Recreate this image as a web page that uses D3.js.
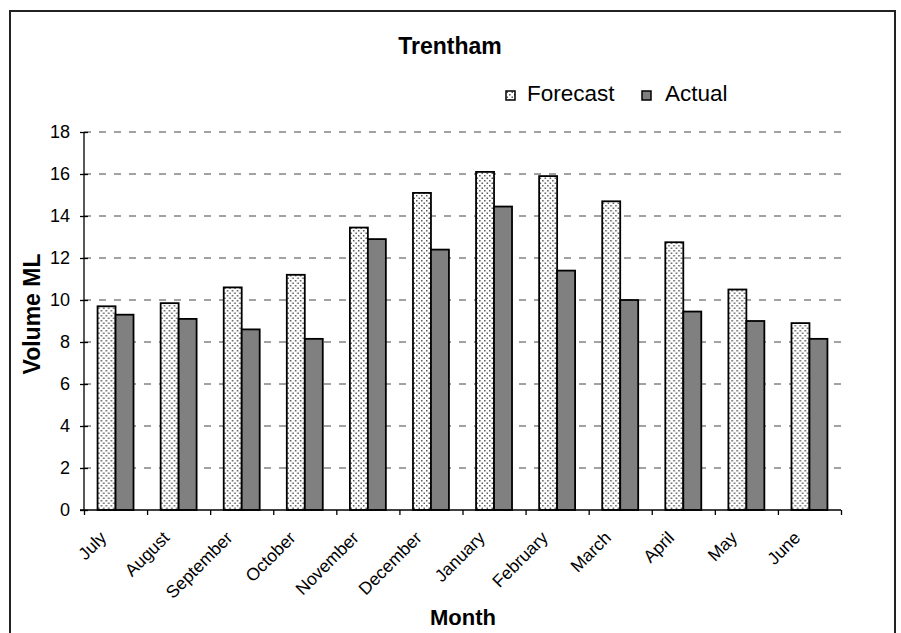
<!DOCTYPE html>
<html>
<head>
<meta charset="utf-8">
<script src="https://cdn.jsdelivr.net/npm/d3@7"></script>
<style>
  body { margin: 0; background: #fff; }
  text { font-family: "Liberation Sans", Arial, sans-serif; }
</style>
</head>
<body>
<div id="chart"></div>
<script>
const months = ['July', 'August', 'September', 'October', 'November', 'December',
                'January', 'February', 'March', 'April', 'May', 'June']
const forecast = [9.7, 9.85, 10.6, 11.2, 13.45, 15.1, 16.1, 15.9, 14.7, 12.75, 10.5, 8.9]
const actual = [9.3, 9.1, 8.6, 8.15, 12.9, 12.4, 14.45, 11.4, 10.0, 9.45, 9.0, 8.15]
const seriesNames = ['Forecast', 'Actual']
const yTicks = [0, 2, 4, 6, 8, 10, 12, 14, 16, 18]

const width = 901
const height = 633
const marginLeft = 84
const marginRight = 60
const marginTop = 132
const marginBottom = 123
const innerWidth = width - marginLeft - marginRight
const innerHeight = height - marginTop - marginBottom

const data = months.map((m, i) => ({ month: m, values: [forecast[i], actual[i]] }))

const svg = d3.select('#chart')
              .append('svg')
              .attr('width', width)
              .attr('height', height)

const defs = svg.append('defs')
const pat = defs.append('pattern')
                .attr('id', 'dots')
                .attr('width', 5)
                .attr('height', 5)
                .attr('patternUnits', 'userSpaceOnUse')
pat.append('rect').attr('width', 5).attr('height', 5).attr('fill', 'white')
pat.append('rect').attr('x', 0.5).attr('y', 0.5).attr('width', 1.5).attr('height', 1.5).attr('fill', '#555')
pat.append('rect').attr('x', 3).attr('y', 3).attr('width', 1.5).attr('height', 1.5).attr('fill', '#555')

// outer frame
svg.append('rect')
   .attr('x', 10)
   .attr('y', 11)
   .attr('width', 885)
   .attr('height', 630)
   .attr('fill', 'none')
   .attr('stroke', '#222')
   .attr('stroke-width', 2)

const g = svg.append('g')
             .attr('transform', `translate(${marginLeft}, ${marginTop})`)

const x = d3.scaleBand()
            .domain(months)
            .range([0, innerWidth])
            .paddingInner(0.43)
            .paddingOuter(0.215)

const xSub = d3.scaleBand()
               .domain(seriesNames)
               .range([0, x.bandwidth()])

const y = d3.scaleLinear()
            .domain([0, 18])
            .range([innerHeight, 0])

// gridlines
g.append('g')
 .selectAll('line')
 .data(yTicks.filter(d => d > 0))
 .enter().append('line')
 .attr('x1', 0)
 .attr('x2', innerWidth)
 .attr('y1', d => y(d))
 .attr('y2', d => y(d))
 .attr('stroke', '#444')
 .attr('stroke-width', 1)
 .attr('stroke-dasharray', '7,8')

// bars
const groups = g.selectAll('.grp')
                .data(data)
                .enter().append('g')
                .attr('class', 'grp')
                .attr('transform', d => `translate(${x(d.month)}, 0)`)

groups.selectAll('rect')
      .data(d => d.values.map((v, i) => ({ key: seriesNames[i], value: v })))
      .enter().append('rect')
      .attr('x', d => xSub(d.key))
      .attr('y', d => y(d.value))
      .attr('width', xSub.bandwidth())
      .attr('height', d => innerHeight - y(d.value))
      .attr('fill', d => d.key === 'Forecast' ? 'url(#dots)' : '#808080')
      .attr('stroke', '#000')
      .attr('stroke-width', 1.8)

// y axis
const yAxis = g.append('g')
               .call(d3.axisLeft(y).tickValues(yTicks).tickSize(4).tickPadding(10))
yAxis.selectAll('path, line').attr('stroke', '#000').attr('stroke-width', 1.3)
yAxis.selectAll('.tick line').attr('x1', 4)
yAxis.select('.domain').attr('d', `M-4,${innerHeight}H0V0`)
yAxis.selectAll('text')
     .attr('font-size', 18)
     .attr('fill', '#000')
     .attr('font-family', '"Liberation Sans", Arial, sans-serif')

// x axis
const xTickScale = d3.scaleLinear().domain([0, months.length]).range([0, innerWidth])
const xAxisG = g.append('g')
                .attr('transform', `translate(0, ${innerHeight})`)
xAxisG.call(d3.axisBottom(xTickScale).tickValues(d3.range(months.length + 1)).tickSize(5).tickFormat(''))
xAxisG.selectAll('path, line').attr('stroke', '#000').attr('stroke-width', 1.3)
xAxisG.select('.domain').attr('d', `M0,0H${innerWidth}`)

g.append('g')
 .selectAll('text')
 .data(months)
 .enter().append('text')
 .attr('transform', d => `translate(${x(d) + x.bandwidth() / 2 - 17}, ${innerHeight + 20}) rotate(-45)`)
 .attr('text-anchor', 'end')
 .attr('dy', '0.72em')
 .attr('font-size', 17.5)
 .attr('fill', '#000')
 .text(d => d)

// titles
svg.append('text')
   .attr('x', 450)
   .attr('y', 54)
   .attr('text-anchor', 'middle')
   .attr('font-size', 23)
   .attr('font-weight', 'bold')
   .text('Trentham')

svg.append('text')
   .attr('x', 463)
   .attr('y', 625)
   .attr('text-anchor', 'middle')
   .attr('font-size', 22)
   .attr('font-weight', 'bold')
   .text('Month')

svg.append('text')
   .attr('transform', `translate(40, 314) rotate(-90)`)
   .attr('text-anchor', 'middle')
   .attr('font-size', 23)
   .attr('font-weight', 'bold')
   .text('Volume ML')

// legend
const legendX = [506, 642]
const legend = svg.selectAll('.leg')
                  .data(seriesNames)
                  .enter().append('g')
                  .attr('class', 'leg')
                  .attr('transform', (d, i) => `translate(${legendX[i]}, 91)`)
legend.append('rect')
      .attr('width', 9)
      .attr('height', 9)
      .attr('fill', d => d === 'Forecast' ? 'url(#dots)' : '#808080')
      .attr('stroke', '#000')
      .attr('stroke-width', 1.5)
legend.append('text')
      .attr('x', d => d === 'Forecast' ? 21 : 23)
      .attr('y', 10)
      .attr('font-size', 22.5)
      .text(d => d)
</script>
</body>
</html>
